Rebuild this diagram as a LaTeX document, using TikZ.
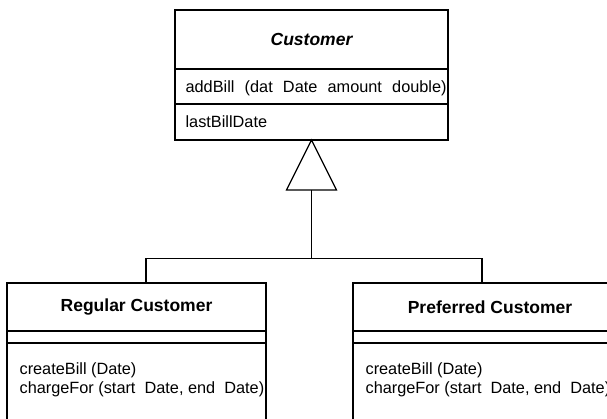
\documentclass[tikz,border=0pt]{standalone}
\usepackage{fontspec}
\setmainfont{Liberation Sans}
\usetikzlibrary{shapes}
\tikzstyle{cls}=[rectangle,draw=black,line width=1.2pt,inner sep=0pt,outer sep=0pt]
\tikzstyle{ctitle}=[cls,font=\fontsize{17.5}{20}\selectfont\bfseries]
\tikzstyle{op}=[inner sep=0pt,font=\fontsize{16.3}{19}\selectfont]
\tikzstyle{inh}=[-, line width=1.2pt]

\begin{document}
\begin{tikzpicture}[x=1pt,y=-1pt,inh]
\useasboundingbox (0,0) rectangle (607,418);
\clip (0,0) rectangle (607,418);
% superclass
\node[ctitle,minimum width=273pt,minimum height=59pt] (C) at (311.5,39.5) {\itshape Customer};
\node[cls,minimum width=273pt,minimum height=35pt,anchor=north] (Cm) at (C.south) {};
\node[cls,minimum width=273pt,minimum height=36pt,anchor=north] (Ca) at (Cm.south) {};
\node[op,anchor=base west] (Cm1) at ([xshift=10pt,yshift=-5.5pt]Cm.west) {\makebox[261pt][s]{addBill (dat Date amount double)}};
\node[op,anchor=base west] (Ca1) at ([xshift=10pt,yshift=-5.5pt]Ca.west) {lastBillDate};
\node[isosceles triangle,shape border rotate=90,isosceles triangle stretches,draw,line width=1.2pt,minimum height=50pt,minimum width=50pt,inner sep=0pt,outer sep=0pt,anchor=apex] (G) at (Ca.south) {};
% subclasses
\node[ctitle,minimum width=259pt,minimum height=48pt] (R) at (136.5,307) {Regular Customer};
\node[cls,minimum width=259pt,minimum height=12pt,anchor=north] (R2) at (R.south) {};
\node[cls,minimum width=259pt,minimum height=100pt,anchor=north] (R3) at (R2.south) {};
\node[op,anchor=base west] (R31) at ([xshift=12pt,yshift=-31.5pt]R3.north west) {createBill (Date)};
\node[op,anchor=base west] (R32) at ([xshift=12pt,yshift=-50pt]R3.north west) {chargeFor (start~ Date, end~ Date)};
\node[ctitle,minimum width=274pt,minimum height=48pt] (P) at (490,307) {Preferred Customer};
\node[cls,minimum width=274pt,minimum height=12pt,anchor=north] (P2) at (P.south) {};
\node[cls,minimum width=274pt,minimum height=100pt,anchor=north] (P3) at (P2.south) {};
\node[op,anchor=base west] (P31) at ([xshift=12pt,yshift=-31.5pt]P3.north west) {createBill (Date)};
\node[op,anchor=base west] (P32) at ([xshift=12pt,yshift=-50pt]P3.north west) {chargeFor (start~ Date, end~ Date)};
\coordinate (J) at (311.5,258.5);
\draw(G.lower side)--(J);\draw(J)-|([xshift=9.5pt]R.north);\draw(J)-|([xshift=-8pt]P.north);
\end{tikzpicture}
\end{document}
